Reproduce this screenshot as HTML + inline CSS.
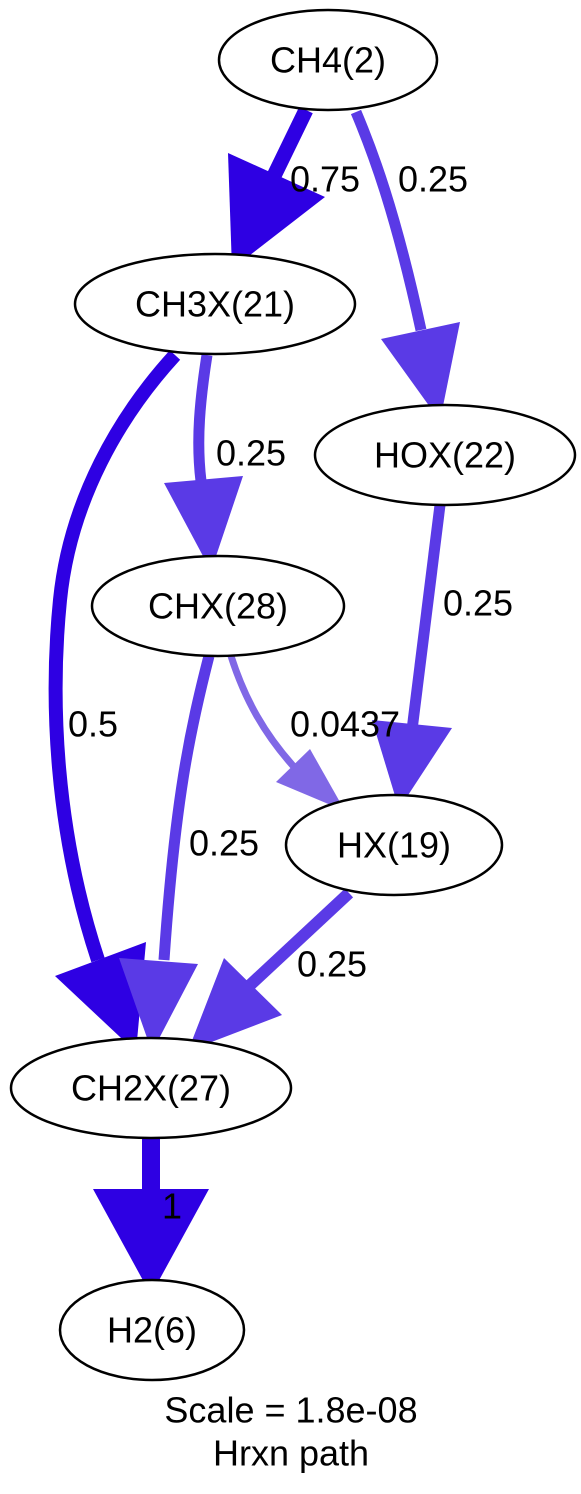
<!DOCTYPE html>
<html><head><meta charset="utf-8"><style>html,body{margin:0;padding:0;background:#fff}svg{display:block}</style></head>
<body>
<svg width="581" height="1494" viewBox="0 0 581 1494" xmlns="http://www.w3.org/2000/svg" font-family="'Liberation Sans', Arial, sans-serif">
<g fill="none" stroke-linecap="butt">
<path d="M306,110 L272,180" stroke="#2e00e3" stroke-width="15"/>
<path d="M356,112 C372,150 395,210 421,330" stroke="#5a3ae6" stroke-width="11"/>
<path d="M207,355 C200,400 196,440 201,481" stroke="#5a3ae6" stroke-width="11"/>
<path d="M440,505 L412,730" stroke="#5a3ae6" stroke-width="11"/>
<path d="M231,656 C245,700 265,735 295,768" stroke="#8068e6" stroke-width="7"/>
<path d="M209,656 C190,730 175,800 164,960" stroke="#5a3ae6" stroke-width="11"/>
<path d="M175,355 C120,415 70,500 60,600 C50,700 55,830 98,960" stroke="#2e00e3" stroke-width="14"/>
<path d="M349,893 L248,987" stroke="#5a3ae6" stroke-width="12"/>
<path d="M151,1138 L151,1192" stroke="#2e00e3" stroke-width="18"/>
</g>
<g stroke="none">
<polygon points="228,153 325,197 232,269" fill="#2e00e3"/>
<polygon points="381,339 460,322 440,421" fill="#5a3ae6"/>
<polygon points="164,483 243,476 211,571" fill="#5a3ae6"/>
<polygon points="372,720 452,728 399,809" fill="#5a3ae6"/>
<polygon points="276,782 310,749 345,811" fill="#8068e6"/>
<polygon points="55,976 146,942 136,1052" fill="#2e00e3"/>
<polygon points="119,958 198,964 152,1052" fill="#5a3ae6"/>
<polygon points="224,958 282,1015 188,1051" fill="#5a3ae6"/>
<polygon points="93,1189 209,1189 151,1295" fill="#2e00e3"/>
</g>
<g fill="#fff" stroke="#000" stroke-width="2.5">
<ellipse cx="328" cy="60" rx="109" ry="50"/>
<ellipse cx="215" cy="304" rx="140" ry="50"/>
<ellipse cx="445" cy="455" rx="130" ry="50"/>
<ellipse cx="218" cy="606" rx="126" ry="50"/>
<ellipse cx="394" cy="845" rx="108" ry="50"/>
<ellipse cx="151" cy="1088" rx="140" ry="50"/>
<ellipse cx="152" cy="1330" rx="92" ry="50"/>
</g>
<g font-size="36" text-anchor="middle" fill="#000" dominant-baseline="central">
<text x="328" y="60">CH4(2)</text>
<text x="215" y="304">CH3X(21)</text>
<text x="445" y="455">HOX(22)</text>
<text x="218" y="606">CHX(28)</text>
<text x="394" y="845">HX(19)</text>
<text x="151" y="1088">CH2X(27)</text>
<text x="152" y="1330">H2(6)</text>
<text x="325" y="179">0.75</text>
<text x="433" y="179">0.25</text>
<text x="251" y="453">0.25</text>
<text x="478" y="603">0.25</text>
<text x="345" y="724">0.0437</text>
<text x="93" y="724">0.5</text>
<text x="224" y="843">0.25</text>
<text x="332" y="964">0.25</text>
<text x="172" y="1206">1</text>
<text x="291" y="1410">Scale = 1.8e-08</text>
<text x="291" y="1453">Hrxn path</text>
</g>
</svg>
</body></html>
